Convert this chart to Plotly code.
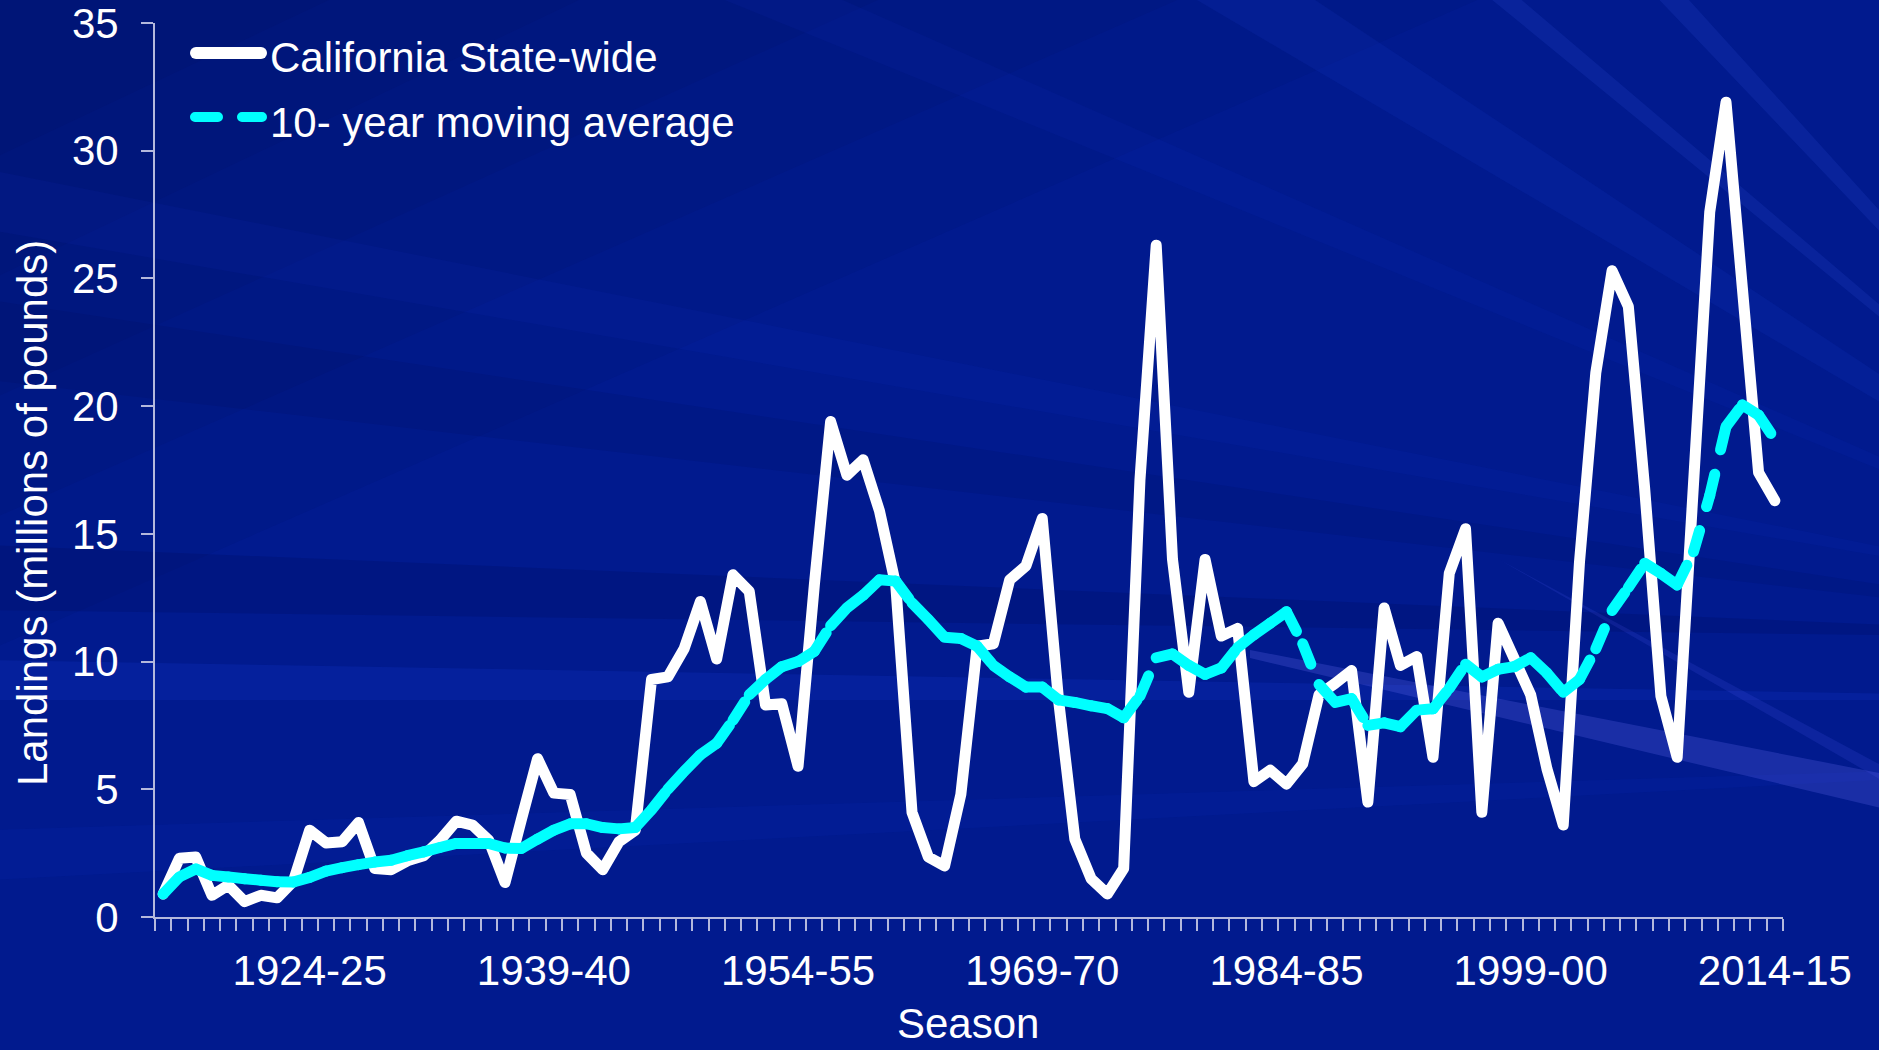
import plotly.graph_objects as go

# ---------------- data ----------------
seasons = [f"{y}-{str(y + 1)[-2:]}" for y in range(1915, 2015)]

landings = [
    0.9, 2.3, 2.35, 0.85, 1.25, 0.6, 0.85, 0.75, 1.4, 3.4,
    2.9, 2.95, 3.7, 1.9, 1.85, 2.2, 2.4, 3.0, 3.75, 3.6,
    3.0, 1.35, 3.8, 6.2, 4.85, 4.8, 2.5, 1.85, 2.95, 3.4,
    9.3, 9.4, 10.5, 12.35, 10.1, 13.4, 12.75, 8.3, 8.35, 5.9,
    13.0, 19.4, 17.3, 17.9, 15.9, 13.0, 4.1, 2.35, 2.0, 4.8,
    10.6, 10.7, 13.2, 13.75, 15.6, 8.5, 3.05, 1.5, 0.9, 1.9,
    17.1, 26.3, 14.0, 8.8, 14.0, 11.0, 11.3, 5.3, 5.75, 5.2,
    6.0, 8.7, 9.15, 9.65, 4.5, 12.1, 9.85, 10.2, 6.25, 13.45,
    15.2, 4.1, 11.5, 10.0, 8.7, 5.8, 3.6, 13.9, 21.3, 25.3,
    23.9, 16.8, 8.65, 6.25, 17.0, 27.6, 31.9, 24.0, 17.4, 16.3,
]

moving_avg = [
    0.9, 1.57, 1.88, 1.63, 1.57, 1.5, 1.44, 1.38, 1.37, 1.55,
    1.8, 1.93, 2.05, 2.15, 2.22, 2.4, 2.55, 2.72, 2.88, 2.88,
    2.88, 2.7, 2.68, 3.05, 3.4, 3.65, 3.65, 3.5, 3.45, 3.5,
    4.2, 5.0, 5.7, 6.35, 6.8, 7.7, 8.7, 9.3, 9.8, 10.0,
    10.4, 11.4, 12.1, 12.6, 13.2, 13.15, 12.3, 11.65, 10.95, 10.9,
    10.6, 9.85, 9.4, 9.0, 9.0, 8.5, 8.4, 8.27, 8.16, 7.8,
    8.65, 10.15, 10.3, 9.85, 9.5, 9.75, 10.55, 11.05, 11.5, 11.95,
    10.7, 9.1, 8.4, 8.55, 7.5, 7.6, 7.45, 8.1, 8.15, 8.95,
    9.9, 9.4, 9.7, 9.8, 10.15, 9.55, 8.8, 9.3, 10.5, 12.0,
    12.9, 13.85, 13.45, 13.0, 14.3, 16.5, 19.2, 20.05, 19.65, 18.7,
]

tick_labels = ["1924-25", "1939-40", "1954-55", "1969-70", "1984-85", "1999-00", "2014-15"]
y_ticks = [0, 5, 10, 15, 20, 25, 30, 35]

series_names = ["California State-wide", "10- year moving average"]

# ---------------- layout constants ----------------
W, H = 1879, 1050
ML, MR, MT, MB = 155, 96, 23, 133
PW, PH = W - ML - MR, H - MT - MB
FONT = "Liberation Sans, Arial, sans-serif"
AXIS_COLOR = "#b4b8dc"
WHITE = "#ffffff"
CYAN = "#00ffff"
DASH = "22px,25px"


def px(x):
    return (x - ML) / PW


def py(y):
    return (H - MB - y) / PH


x_idx = list(range(len(seasons)))
tick_positions = [seasons.index(t) for t in tick_labels]

fig = go.Figure()

# white series
fig.add_trace(go.Scatter(
    x=x_idx, y=landings, mode="lines", name=series_names[0],
    line=dict(color=WHITE, width=11), showlegend=False,
    hovertext=seasons, hoverinfo="text+y",
))

# moving average, drawn segment by segment so the dash restarts at each point
for k in range(len(x_idx) - 1):
    fig.add_trace(go.Scatter(
        x=x_idx[k:k + 2], y=moving_avg[k:k + 2], mode="lines",
        name=series_names[1], line=dict(color=CYAN, width=11, dash=DASH),
        showlegend=False, hoverinfo="skip",
    ))

# ---------------- background decoration ----------------
shapes = []


def poly(points, fill):
    d = "M " + " L ".join(f"{px(a):.4f},{py(b):.4f}" for a, b in points) + " Z"
    return dict(type="path", path=d, xref="paper", yref="paper",
                fillcolor=fill, line=dict(width=0), layer="below")


# darker top-left, graded
for k, (a, b) in enumerate([(1500, 650), (1200, 520), (900, 400), (600, 280), (350, 160)]):
    shapes.append(poly([(-10, -10), (a, -10), (-10, b)], "rgba(0,8,70,0.07)"))
# dark bands on the left
shapes.append(poly([(2250, 640), (-10, 545), (-10, 610)], "rgba(0,8,70,0.16)"))
shapes.append(poly([(2250, 640), (-10, 300), (-10, 380)], "rgba(0,8,70,0.10)"))
# light streaks
shapes.append(poly([(2250, 700), (-10, 660), (-10, 700)], "rgba(30,70,230,0.16)"))
shapes.append(poly([(2250, 760), (-10, 830), (-10, 880)], "rgba(20,50,200,0.12)"))
shapes.append(poly([(2250, 620), (1180, -10), (1300, -10)], "rgba(40,80,240,0.10)"))
shapes.append(poly([(2250, 620), (700, -10), (820, -10)], "rgba(30,60,220,0.07)"))
shapes.append(poly([(2250, 620), (1480, -10), (1510, -10)], "rgba(70,110,255,0.12)"))
shapes.append(poly([(2250, 620), (1650, -10), (1680, -10)], "rgba(70,110,255,0.12)"))
shapes.append(poly([(2250, 620), (-10, 170), (-10, 230)], "rgba(30,60,220,0.07)"))
shapes.append(poly([(1250, 650), (1890, 775), (1890, 810), (1250, 658)], "rgba(120,120,255,0.22)"))
shapes.append(poly([(1500, 560), (1890, 770), (1890, 785)], "rgba(90,100,255,0.14)"))

# ---------------- legend (drawn) ----------------
shapes.append(dict(type="line", xref="paper", yref="paper",
                   x0=px(196), x1=px(261), y0=py(53), y1=py(53),
                   line=dict(color=WHITE, width=12), layer="above"))
shapes.append(dict(type="line", xref="paper", yref="paper",
                   x0=px(195), x1=px(262), y0=py(117), y1=py(117),
                   line=dict(color=CYAN, width=10, dash="23px,24px"), layer="above"))

annotations = [
    dict(text=series_names[0], x=px(268), y=py(57), xref="paper", yref="paper",
         xanchor="left", yanchor="middle", showarrow=False,
         font=dict(family=FONT, size=42, color=WHITE)),
    dict(text=series_names[1], x=px(268), y=py(122), xref="paper", yref="paper",
         xanchor="left", yanchor="middle", showarrow=False,
         font=dict(family=FONT, size=42, color=WHITE)),
    dict(text="Landings (millions of pounds)", x=px(32), y=py(513),
         xref="paper", yref="paper", xanchor="center", yanchor="middle",
         textangle=-90, showarrow=False,
         font=dict(family=FONT, size=42, color=WHITE)),
    dict(text="Season", x=px(968), y=py(1049), xref="paper", yref="paper",
         xanchor="center", yanchor="bottom", showarrow=False,
         font=dict(family=FONT, size=42, color=WHITE)),
]

fig.update_layout(
    template="none",
    width=W, height=H, autosize=False,
    margin=dict(l=ML, r=MR, t=MT, b=MB, pad=0),
    paper_bgcolor="#011a8e",
    plot_bgcolor="rgba(0,0,0,0)",
    showlegend=False,
    shapes=shapes,
    annotations=annotations,
    font=dict(family=FONT, size=42, color=WHITE),
)

fig.update_xaxes(
    range=[-0.5, len(seasons) - 0.5], automargin=False,
    tickmode="array", tickvals=tick_positions, ticktext=tick_labels,
    ticks="", ticklabelstandoff=16,
    tickfont=dict(family=FONT, size=42, color=WHITE),
    showline=True, linecolor=AXIS_COLOR, linewidth=2,
    showgrid=False, zeroline=False,
    minor=dict(ticks="outside", ticklen=12, tickwidth=2, tickcolor=AXIS_COLOR,
               tickmode="linear", tick0=-0.5, dtick=1, showgrid=False),
)

fig.update_yaxes(
    range=[0, 35.001], automargin=False,
    tickmode="array", tickvals=y_ticks,
    ticks="outside", ticklen=12, tickwidth=2, tickcolor=AXIS_COLOR,
    ticklabelstandoff=14, ticklabeloverflow="allow",
    tickfont=dict(family=FONT, size=42, color=WHITE),
    showline=True, linecolor=AXIS_COLOR, linewidth=2,
    showgrid=False, zeroline=False,
)

post = """
document.body.style.margin = '0';
var gd = document.getElementById('{plot_id}');
gd.querySelectorAll('.scatterlayer path.js-line').forEach(function(p){
  p.style.strokeLinecap = 'round'; p.style.strokeLinejoin = 'round';
});
gd.querySelectorAll('.shapelayer path').forEach(function(p){
  p.style.strokeLinecap = 'round';
});
"""

fig.write_html("out.html", post_script=post, config={"displayModeBar": False})
